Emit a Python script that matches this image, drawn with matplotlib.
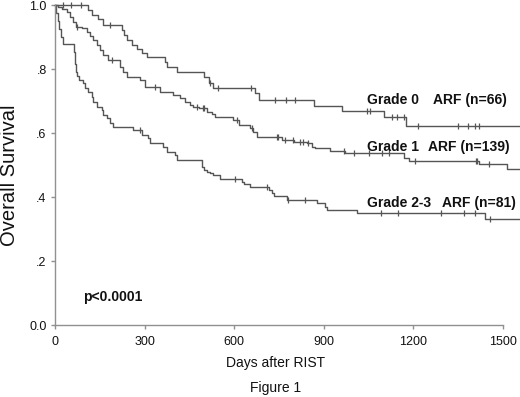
import numpy as np
import matplotlib
matplotlib.use("Agg")
import matplotlib.pyplot as plt

plt.rcParams['font.family'] = ['Liberation Sans', 'DejaVu Sans']

# Grade 0 ARF (n=66)
times0 = [0, 111, 124, 144, 161, 225, 232, 242, 258, 275, 292, 309, 369, 376, 409, 500, 515, 529,
          671, 682, 867, 962, 1104, 1175, 1555]
surv0 = [1.0, 0.985, 0.970, 0.955, 0.939, 0.922, 0.906, 0.891, 0.875, 0.862, 0.849, 0.838, 0.823,
         0.807, 0.792, 0.776, 0.755, 0.742, 0.724, 0.703, 0.685, 0.669, 0.649, 0.622, 0.622]
cens0 = [28, 53, 88, 185, 520, 545, 657, 738, 774, 805, 1046, 1057, 1130, 1147, 1169, 1218, 1349,
         1383, 1409, 1420]

# Grade 1 ARF (n=139)
times1 = [0, 11, 22, 39, 50, 61, 70, 90, 106, 117, 129, 140, 151, 162, 179, 218, 229, 241, 285, 302,
          352, 397, 420, 436, 453, 464, 481, 509, 526, 537, 598, 615, 654, 665, 677, 761, 800, 845,
          861, 873, 923, 973, 1169, 1186, 1421, 1516, 1555]
surv1 = [1.0, 0.993, 0.986, 0.979, 0.963, 0.948, 0.932, 0.927, 0.917, 0.903, 0.891, 0.875, 0.859,
         0.844, 0.828, 0.807, 0.792, 0.776, 0.766, 0.745, 0.729, 0.719, 0.708, 0.698, 0.688, 0.682,
         0.677, 0.667, 0.659, 0.651, 0.641, 0.625, 0.615, 0.604, 0.588, 0.578, 0.573, 0.568, 0.557,
         0.552, 0.545, 0.537, 0.522, 0.513, 0.502, 0.4875, 0.4875]
cens1 = [73, 190, 336, 476, 497, 500, 610, 660, 744, 749, 771, 798, 822, 830, 847, 970, 1001, 1051,
         1096, 1118, 1208, 1410, 1415, 1454]

# Grade 2-3 ARF (n=81)
times2 = [0, 5, 10, 15, 20, 27, 64, 65, 66, 67, 68, 70, 72, 73, 82, 95, 101, 112, 123, 129, 140, 157,
          162, 174, 185, 196, 263, 291, 313, 319, 363, 375, 403, 408, 492, 498, 509, 520, 531, 554,
          626, 632, 654, 716, 727, 733, 777, 878, 906, 912, 1013, 1441, 1555]
surv2 = [1.0, 0.975, 0.951, 0.926, 0.901, 0.877, 0.864, 0.852, 0.840, 0.827, 0.815, 0.802, 0.790,
         0.778, 0.766, 0.755, 0.740, 0.729, 0.714, 0.698, 0.682, 0.672, 0.656, 0.646, 0.630, 0.618,
         0.609, 0.594, 0.583, 0.568, 0.557, 0.542, 0.531, 0.516, 0.495, 0.484, 0.479, 0.474, 0.469,
         0.456, 0.448, 0.441, 0.432, 0.422, 0.412, 0.403, 0.391, 0.380, 0.370, 0.359, 0.349, 0.331,
         0.331]
cens2 = [285, 604, 710, 780, 839, 1094, 1150, 1295, 1370, 1407, 1458]

xticks = [0, 300, 600, 900, 1200, 1500]
yticks = [0.0, 0.2, 0.4, 0.6, 0.8, 1.0]
ytick_labels = ['0.0', '.2', '.4', '.6', '.8', '1.0']

line_color = '#555555'
axis_color = '#909090'
text_color = '#111111'

fig = plt.figure(figsize=(5.2, 3.97), dpi=100)
ax = fig.add_axes([55 / 520, (397 - 325) / 397, (519 - 55) / 520, 320 / 397])

for t, s, c in [(times0, surv0, cens0), (times1, surv1, cens1), (times2, surv2, cens2)]:
    t = np.asarray(t, float)
    s = np.asarray(s, float)
    ax.step(t, s, where='post', color=line_color, lw=1.0, clip_on=False)
    idx = np.searchsorted(t, np.asarray(c, float), side='right') - 1
    ax.plot(c, s[idx], linestyle='none', marker='|', markersize=5, mew=0.9,
            color=line_color, clip_on=False)

ax.set_xlim(0, 1555)
ax.set_ylim(0, 1.0)
ax.spines['top'].set_visible(False)
ax.spines['right'].set_visible(False)
for sp in ['left', 'bottom']:
    ax.spines[sp].set_color(axis_color)
    ax.spines[sp].set_linewidth(1.0)
ax.spines['bottom'].set_bounds(0, 1500)
ax.spines['left'].set_bounds(0, 1.0)

ax.set_xticks(xticks)
ax.set_xticklabels([str(v) for v in xticks])
ax.set_yticks(yticks)
ax.set_yticklabels(ytick_labels)
ax.tick_params(axis='both', colors=axis_color, length=3, width=1.0, labelsize=9,
               labelcolor=text_color)
ax.tick_params(axis='x', pad=5)
ax.tick_params(axis='y', pad=3)

fig.text(9.5 / 520, 1 - 175 / 397, 'Overall Survival', rotation=90, ha='center', va='center',
         fontsize=14.5, color=text_color)
fig.text(276 / 520, 1 - 363 / 397, 'Days after RIST', ha='center', va='center', fontsize=10,
         color=text_color)
fig.text(276 / 520, 1 - 388 / 397, 'Figure 1', ha='center', va='center', fontsize=10,
         color=text_color)

lbl_kw = dict(fontsize=10, fontweight='bold', va='center', ha='left', color=text_color)
ax.text(1044, 0.703, 'Grade 0', **lbl_kw)
ax.text(1266, 0.703, 'ARF (n=66)', **lbl_kw)
ax.text(1044, 0.556, 'Grade 1', **lbl_kw)
ax.text(1251, 0.556, 'ARF (n=139)', **lbl_kw)
ax.text(1044, 0.381, 'Grade 2-3', **lbl_kw)
ax.text(1296, 0.381, 'ARF (n=81)', **lbl_kw)
ax.text(94, 0.0875, 'p<0.0001', **lbl_kw)

fig.savefig('out.png', dpi=100)
